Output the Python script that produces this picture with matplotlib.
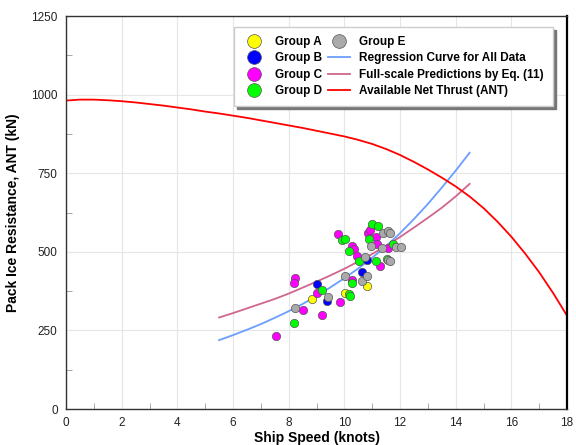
import matplotlib
matplotlib.use('Agg')
import matplotlib.pyplot as plt
from matplotlib.ticker import MultipleLocator

plt.rcParams['font.family'] = ['Liberation Sans', 'DejaVu Sans']

# measured points, ship speed (knots) vs pack ice resistance (kN)
group_a_x = [8.84, 10.02, 10.81]
group_a_y = [350, 370, 392]

group_b_x = [9.01, 9.39, 10.63, 10.83]
group_b_y = [398, 345, 436, 474]

group_c_x = [7.55, 8.23, 8.18, 8.53, 9.01, 9.21, 9.85, 10.26, 9.78, 10.26,
             10.36, 10.47, 10.86, 10.92, 11.13, 11.16, 11.27, 11.57]
group_c_y = [233, 418, 400, 315, 368, 300, 339, 410, 557, 518,
             508, 487, 561, 569, 546, 526, 456, 511]

group_d_x = [8.19, 9.21, 10.17, 10.22, 10.27, 9.91, 10.01, 10.18, 10.53,
             11.01, 11.20, 10.89, 11.14, 11.52, 11.74]
group_d_y = [272, 378, 366, 360, 400, 537, 541, 504, 471,
             590, 582, 542, 471, 478, 524]

group_e_x = [8.23, 9.40, 10.04, 10.64, 10.80, 10.74, 10.95, 11.37, 11.38,
             11.57, 11.63, 11.58, 11.65, 11.87, 12.02]
group_e_y = [321, 357, 424, 408, 423, 482, 519, 511, 561,
             565, 559, 474, 472, 514, 516]

# curves
reg_x = [5.5, 6.0, 6.5, 7.0, 7.5, 8.0, 8.5, 9.0, 9.5, 10.0,
         10.5, 11.0, 11.5, 12.0, 12.5, 13.0, 13.5, 14.0, 14.5]
reg_y = [219, 235, 252, 270, 290, 311, 334, 359, 387, 416,
         447, 481, 518, 559, 604, 652, 704, 758, 815]

pred_x = [5.5, 6.0, 6.5, 7.0, 7.5, 8.0, 8.5, 9.0, 9.5, 10.0,
          10.5, 11.0, 11.5, 12.0, 12.5, 13.0, 13.5, 14.0, 14.5]
pred_y = [291, 305, 320, 335, 350, 367, 386, 405, 425, 446,
          469, 493, 519, 547, 577, 608, 640, 676, 716]

ant_x = [0, 0.5, 1, 1.5, 2, 2.5, 3, 3.5, 4, 4.5, 5, 5.5, 6, 6.5, 7, 7.5, 8,
         8.5, 9, 9.5, 10, 10.5, 11, 11.5, 12, 12.5, 13, 13.5, 14, 14.5, 15,
         15.5, 16, 16.5, 17, 17.5, 18]
ant_y = [981, 984, 984, 982, 979, 975, 970, 965, 959, 953, 946, 940, 933, 926,
         918, 910, 902, 894, 885, 876, 867, 856, 843, 827, 808, 786, 762, 736,
         708, 676, 639, 596, 548, 494, 435, 369, 297]

fig = plt.figure(figsize=(5.76, 4.45), dpi=100)
ax = fig.add_axes([66 / 576, 36 / 445, 501 / 576, 393 / 445])

mk = dict(marker='o', linestyle='none', markersize=6,
          markeredgewidth=0.5, markeredgecolor='#555555', zorder=3)
ax.plot(group_a_x, group_a_y, color='#ffff00', label='Group A', **mk)
ax.plot(group_b_x, group_b_y, color='#0000ff', label='Group B', **mk)
ax.plot(group_c_x, group_c_y, color='#ff00ff', label='Group C', **mk)
ax.plot(group_d_x, group_d_y, color='#00ff00', label='Group D', **mk)
ax.plot(group_e_x, group_e_y, color='#aaaaaa', label='Group E', **mk)

ax.plot(reg_x, reg_y, color='#6b9eff', lw=1.3, zorder=2,
        label='Regression Curve for All Data')
ax.plot(pred_x, pred_y, color='#d0668f', lw=1.3, zorder=2,
        label='Full-scale Predictions by Eq. (11)')
ax.plot(ant_x, ant_y, color='#ff0000', lw=1.3, zorder=2,
        label='Available Net Thrust (ANT)')

ax.set_xlim(0, 18)
ax.set_ylim(0, 1250)
ax.xaxis.set_major_locator(MultipleLocator(2))
ax.xaxis.set_minor_locator(MultipleLocator(1))
ax.yaxis.set_major_locator(MultipleLocator(250))
ax.yaxis.set_minor_locator(MultipleLocator(125))
ax.grid(which='major', color='#e6e6e6', lw=0.8, zorder=0)
ax.tick_params(which='major', direction='in', length=0, labelsize=8.5,
               labelcolor='#222222', pad=6)
ax.tick_params(which='minor', direction='in', length=4, color='#999999')

for side in ['left', 'bottom', 'top']:
    ax.spines[side].set_color('#333333')
    ax.spines[side].set_linewidth(1.0)
ax.spines['right'].set_color('black')
ax.spines['right'].set_linewidth(1.6)

ax.set_xlabel('Ship Speed (knots)', fontsize=10, fontweight='bold', labelpad=1)
ax.set_ylabel('Pack Ice Resistance, ANT (kN)', fontsize=10, fontweight='bold',
              labelpad=8)

leg = ax.legend(loc='upper right', bbox_to_anchor=(0.972, 0.972), ncol=2,
                borderaxespad=0, markerscale=1.65, borderpad=0.75,
                handlelength=1.9, handletextpad=0.8, columnspacing=0.5,
                labelspacing=0.38, fancybox=False, framealpha=1,
                edgecolor='#cccccc', shadow={'color': '#777777', 'alpha': 1},
                prop={'weight': 'bold', 'size': 8.5})
leg.set_zorder(5)

fig.savefig('out.png', dpi=100)
